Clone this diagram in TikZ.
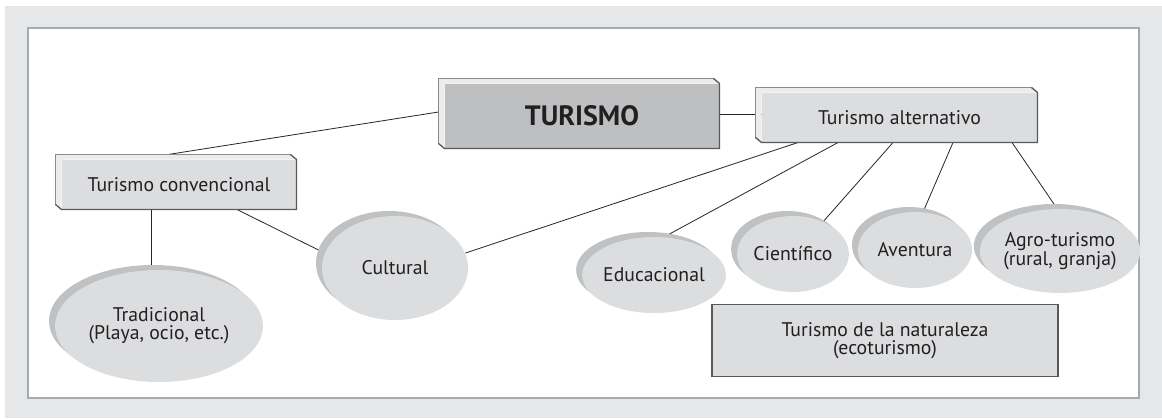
\documentclass[tikz,border=0pt]{standalone}
\usepackage{fontspec}
\setmainfont{PT Sans}
\usetikzlibrary{shapes.geometric,shadows}
\pgfdeclarelayer{background}
\pgfsetlayers{background,main}

\definecolor{pagegray}{RGB}{230,231,232}
\definecolor{rimgray}{RGB}{167,169,172}
\definecolor{lightface}{RGB}{220,221,223}
\definecolor{darkface}{RGB}{190,191,193}
\definecolor{bevelgray}{RGB}{236,236,237}
\definecolor{shadowgray}{RGB}{192,193,195}
\definecolor{edgegray}{RGB}{88,89,91}
\definecolor{inkcol}{RGB}{35,31,32}

\tikzset{every picture/.style={line width=0.75pt}}
\tikzset{
  bevelbox/.style={rectangle, inner sep=0pt, text=inkcol, align=center,
    font=\fontsize{14.8}{13.5}\selectfont},
  flatbox/.style={rectangle, inner sep=0pt, text=inkcol, align=center,
    fill=lightface, draw=edgegray, line width=1pt,
    font=\fontsize{14.8}{13.5}\selectfont},
  blob/.style={ellipse, inner sep=0pt, text=inkcol, align=center,
    fill=lightface, draw=none, font=\fontsize{14.8}{13.5}\selectfont,
    copy shadow={opacity=1, fill=shadowgray, draw=none,
      shadow xshift=-4.5pt, shadow yshift=3.75pt}},
  link/.style={draw=black!85, line width=0.6pt},
}

\begin{document}
\begin{tikzpicture}[x=0.75pt,y=0.75pt,yscale=-1,xscale=1]
    \useasboundingbox (0,0) rectangle (1162,418);

    % boxes
    \node[bevelbox, minimum width=205.5pt, minimum height=48pt,
      font=\fontsize{21}{24}\selectfont\bfseries] (tur) at (582,116) {TURISMO};
    \node[bevelbox, minimum width=206.25pt, minimum height=36.75pt] (alt) at (899.5,117.5) {Turismo alternativo};
    \node[bevelbox, minimum width=175.5pt, minimum height=36.75pt] (conv) at (179,184.5) {Turismo convencional};
    \node[flatbox, minimum width=259.5pt, minimum height=54pt] (nat) at (885,340.5) {Turismo de la naturaleza\\(ecoturismo)};

    % ellipses
    \node[blob, minimum width=156pt, minimum height=84pt] (trad) at (159,326) {Tradicional\\(Playa, ocio, etc.)};
    \node[blob, minimum width=109.5pt, minimum height=78pt] (cult) at (395,268) {Cultural};
    \node[blob, minimum width=106.5pt, minimum height=57pt] (edu) at (654,275) {Educacional};
    \node[blob, minimum width=82.5pt, minimum height=57pt] (cien) at (793,254) {Científico};
    \node[blob, minimum width=85.5pt, minimum height=57pt] (aven) at (915,250) {Aventura};
    \node[blob, minimum width=108pt, minimum height=63pt] (agro) at (1060,251) {Agro-turismo\\(rural, granja)};

    \begin{pgfonlayer}{background}
    % page and panel
    \fill[pagegray] (5,6) rectangle (1162,418);
    \draw[rimgray, fill=white, line width=1.1pt] (28,28) rectangle (1139,398);

    % connectors
    \draw[link] ([shift={(-6,-4)}]tur.west) -- ([shift={(-11,-5)}]conv.north);
    \draw[link] ([shift={(0,-2)}]tur.east) -- ([shift={(0,-2)}]tur.east -| alt.west);
    \draw[link] ([shift={(-28,0)}]conv.south) -- ([shift={(-28,0)}]conv.south |- trad.north);
    \draw[link] ([shift={(58,0)}]conv.south) -- (cult.168);
    \draw[link] (cult.12) -- ([shift={(-101.5,0)}]alt.south);
    \draw[link] (edu.75) -- ([shift={(-61.5,0)}]alt.south);
    \draw[link] (cien.47) -- ([shift={(-6.5,0)}]alt.south);
    \draw[link] (aven.78) -- ([shift={(53.5,0)}]alt.south);
    \draw[link] (agro.94) -- ([shift={(112.5,0)}]alt.south);

    % bevelled faces
    \foreach \n/\c in {tur/darkface, alt/lightface, conv/lightface} {
      \fill[bevelgray] ([shift={(-6,-5)}]\n.north west) -- ([shift={(-6,-5)}]\n.north east)
        -- (\n.north east) -- (\n.north west) -- (\n.south west)
        -- ([shift={(-6,-5)}]\n.south west) -- cycle;
      \fill[\c] (\n.north west) rectangle (\n.south east);
      \draw[edgegray!70, line width=0.5pt] ([shift={(-6,-5)}]\n.south west) -- ([shift={(-6,-5)}]\n.north west)
        -- ([shift={(-6,-5)}]\n.north east);
      \draw[edgegray, line width=1pt] ([shift={(-6,-5)}]\n.north east) -- (\n.north east)
        -- (\n.south east) -- (\n.south west) -- ([shift={(-6,-5)}]\n.south west);
    }
    \end{pgfonlayer}
\end{tikzpicture}
\end{document}
